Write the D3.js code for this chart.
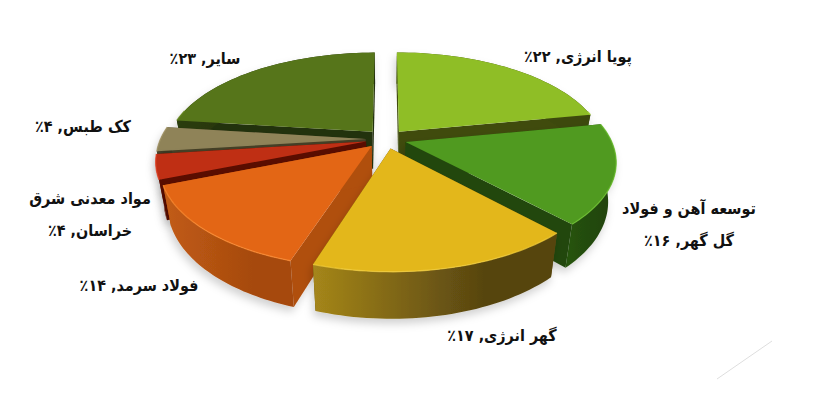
<!DOCTYPE html>
<html lang="fa"><head><meta charset="utf-8">
<script src="https://cdn.jsdelivr.net/npm/d3@7/dist/d3.min.js"></script>
<style>html,body{margin:0;padding:0;background:#fff}svg{display:block}
text{font-family:"DejaVu Sans",sans-serif;font-weight:bold;fill:#111;direction:rtl;text-anchor:middle;dominant-baseline:middle}</style>
</head><body><svg width="817" height="409"></svg>
<script>
// data
const names = ["پویا انرژی","توسعه آهن و فولاد گل گهر","گهر انرژی","فولاد سرمد","مواد معدنی شرق خراسان","کک طبس","سایر"];
const values = [22,16,17,14,4,4,23];
// label lines (split as in the picture) and their anchors
const labelLines = [["پویا انرژی, ۲۲٪"],["توسعه آهن و فولاد","گل گهر, ۱۶٪"],["گهر انرژی, ۱۷٪"],["فولاد سرمد, ۱۴٪"],["مواد معدنی شرق","خراسان, ۴٪"],["کک طبس, ۴٪"],["سایر, ۲۳٪"]];
const labelX = [578,689,502,139,90,83,205];
const labelY = [[57],[209,241],[336],[286],[199,231],[127],[59]];
// palette
const topCol = ["#8fbe26","#509a20","#e3b71b","#e36615","#bf2f14","#8f8358","#56751a"];
const rimCol = ["#a5d63a","#6cc22e","#f2cc3a","#fb8a30","#e8452a","#a89a6c","#6a8c22"];
const wallA = ["#4a5a12","#26520c","#a5861a","#c25c14","#7a1508","#4a452c","#2b3c10"];
const wallB = ["#3c4a0e","#20450a","#574510","#a64a0f","#5a0f05","#3d3923","#222f0c"];
const cutCol = ["#3f4b0f","#22470b","#5c4a10","#b04f10","#5a0f05","#444028","#24300c"];
const drawOrder = [6,0,5,4,1,3,2];

// projection
const Cx=386,Cy=139,R=205,D=5.4,K=0.47,H=37.5,EXPL=0.1;
function proj(u,v,z){ // z=0 top, 1 bottom
  const s=1/(1-v/D);
  return [Cx+R*s*u*(z?0.965:1), Cy+K*R*s*v+(z?H*s:0)];
}
const pie=d3.pie().sort(null).value(d=>d).startAngle(0).endAngle(2*Math.PI);
const arcs=pie(values);
const line=d3.line();
const svg=d3.select("svg");
const defs=svg.append("defs");
const f=defs.append("filter").attr("id","shadow").attr("x","-20%").attr("y","-20%").attr("width","140%").attr("height","150%");
f.append("feDropShadow").attr("dx",-2).attr("dy",5).attr("stdDeviation",4).attr("flood-color","#000").attr("flood-opacity",0.18);
defs.append("filter").attr("id","soft").append("feGaussianBlur").attr("stdDeviation",0.6);

const chart=svg.append("g");
drawOrder.forEach(i=>{
  const a=arcs[i], m=(a.startAngle+a.endAngle)/2;
  const ex=EXPL*Math.sin(m), ey=-EXPL*Math.cos(m);
  const ang=d3.range(0,41).map(k=>a.startAngle+(a.endAngle-a.startAngle)*k/40);
  const rim=z=>ang.map(t=>proj(Math.sin(t)+ex,-Math.cos(t)+ey,z));
  const apex=z=>proj(ex,ey,z);
  const topRim=rim(0),botRim=rim(1);
  const g=chart.append("g");
  const gid="w"+i;
  const xs=topRim.map(p=>p[0]);
  const lg=defs.append("linearGradient").attr("id",gid).attr("gradientUnits","userSpaceOnUse")
    .attr("x1",d3.min(xs)).attr("x2",d3.max(xs)).attr("y1",0).attr("y2",0);
  lg.append("stop").attr("offset",0).attr("stop-color",wallA[i]);
  lg.append("stop").attr("offset",0.7).attr("stop-color",wallB[i]);
  const body=g.append("g").attr("filter","url(#shadow)");
  // cut faces
  [topRim[0],topRim[40]].forEach((p,k)=>{
    const q=k?botRim[40]:botRim[0];
    body.append("path").attr("d",line([apex(0),p,q,apex(1)])+"Z").attr("fill",cutCol[i]);
  });
  // outer wall
  body.append("path").attr("d",line(topRim.concat(botRim.slice().reverse()))+"Z").attr("fill",`url(#${gid})`);
  // top face
  g.append("path").attr("d",line([apex(0),...topRim])+"Z").attr("fill",topCol[i]);
  // bevel rim, on the near part of the arc only
  const near=topRim.filter((p,k)=>Math.cos(ang[k])<0.25);
  if(near.length>1) g.append("path").attr("d",line(near)).attr("fill","none").attr("stroke",rimCol[i]).attr("stroke-width",1.3).attr("stroke-opacity",0.75).attr("filter","url(#soft)");
});

// labels
const lab=svg.append("g").attr("font-size",16);
labelLines.forEach((ls,i)=>ls.forEach((t,j)=>{
  lab.append("text").attr("transform",`translate(${labelX[i]},${labelY[i][j]}) scale(0.9,1)`).text(t);
}));
// faint decorative line at lower right
const decoX=d3.scaleLinear().range([717,772]),decoY=d3.scaleLinear().range([379,341]);
svg.append("line").attr("x1",decoX(0)).attr("y1",decoY(0)).attr("x2",decoX(1)).attr("y2",decoY(1)).attr("stroke","#dedede");
</script></body></html>
